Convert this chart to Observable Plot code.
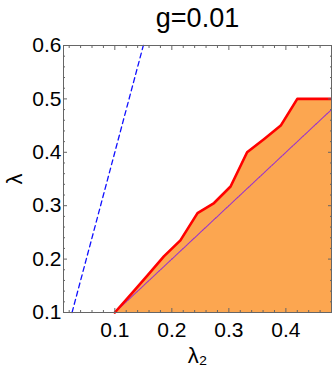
<!DOCTYPE html>
<html>
<head>
<meta charset="utf-8">
<script src="https://cdn.jsdelivr.net/npm/d3@7"></script>
<script src="https://cdn.jsdelivr.net/npm/@observablehq/plot@0.6"></script>
<style>
  body { margin: 0; background: #fff; }
</style>
</head>
<body>
<div id="chart"></div>
<script>
const title = "g=0.01";
const xLabel = "λ₂";
const yLabel = "λ";
const xDomain = [0.01, 0.48];
const yDomain = [0.1, 0.6];
const xTicks = [0.1, 0.2, 0.3, 0.4];
const yTicks = [0.1, 0.2, 0.3, 0.4, 0.5, 0.6];

// Boundary of the orange region (red line)
const boundaryX = [0.1, 0.129, 0.157, 0.186, 0.215, 0.245, 0.274, 0.303, 0.332, 0.362, 0.391, 0.42, 0.48];
const boundaryY = [0.1, 0.135, 0.169, 0.205, 0.235, 0.286, 0.305, 0.336, 0.400, 0.425, 0.450, 0.5, 0.5];

// Blue dashed line (λ = 4 λ2)
const dashedX = [0.025, 0.15];
const dashedY = [0.1, 0.6];

// Purple dotted diagonal (λ = λ2)
const diagX = [0.1, 0.48];
const diagY = [0.1, 0.48];

const boundary = boundaryX.map((x, i) => ({x, y: boundaryY[i]}));
const dashed = dashedX.map((x, i) => ({x, y: dashedY[i]}));
const diag = diagX.map((x, i) => ({x, y: diagY[i]}));

const minorX = d3.range(0, 51).map(i => +(i * 0.02).toFixed(2)).filter(v => v >= xDomain[0] && v <= xDomain[1] && !xTicks.includes(v));
const minorY = d3.range(0, 51).map(i => +(i * 0.02).toFixed(2)).filter(v => v >= yDomain[0] && v <= yDomain[1] && !yTicks.includes(v));

const font = "'Liberation Sans', Arial, sans-serif";
const tk = {text: null, stroke: "#666", label: null};

const chart = Plot.plot({
  width: 332,
  height: 371,
  marginTop: 45,
  marginBottom: 59,
  marginLeft: 63,
  marginRight: 1,
  style: {fontFamily: font, background: "#fff", color: "#000", overflow: "visible"},
  x: {domain: xDomain, label: null},
  y: {domain: yDomain, label: null},
  marks: [
    Plot.areaY(boundary, {x: "x", y: "y", fill: "#fca650", clip: true}),
    Plot.line(diag, {x: "x", y: "y", stroke: "#9932cc", strokeWidth: 1.1, strokeDasharray: "1.5,1"}),
    Plot.line(boundary, {x: "x", y: "y", stroke: "#ff0000", strokeWidth: 2.6, strokeLinejoin: "round"}),
    Plot.line(dashed, {x: "x", y: "y", stroke: "#1010ff", strokeWidth: 1.3, strokeDasharray: "5,3.5"}),
    Plot.frame({stroke: "#666", strokeWidth: 1}),
    // major ticks (inward), all four sides
    Plot.axisX(xTicks, {anchor: "bottom", tickSize: -4, ...tk}),
    Plot.axisX(xTicks, {anchor: "top", tickSize: -4, ...tk}),
    Plot.axisY(yTicks, {anchor: "left", tickSize: -4, ...tk}),
    Plot.axisY(yTicks, {anchor: "right", tickSize: -4, ...tk}),
    // minor ticks
    Plot.axisX(minorX, {anchor: "bottom", tickSize: -2, ...tk}),
    Plot.axisX(minorX, {anchor: "top", tickSize: -2, ...tk}),
    Plot.axisY(minorY, {anchor: "left", tickSize: -2, ...tk}),
    Plot.axisY(minorY, {anchor: "right", tickSize: -2, ...tk}),
    // tick labels
    Plot.axisX(xTicks, {anchor: "bottom", tickSize: 0, tickPadding: 10, fontSize: 21, tickFormat: d3.format(".1f"), label: null, fill: "#000"}),
    Plot.axisY(yTicks, {anchor: "left", tickSize: 0, tickPadding: 2, fontSize: 21, tickFormat: d3.format(".1f"), label: null, fill: "#000"}),
    // title & axis labels
    Plot.text([title], {frameAnchor: "top", dy: -27, fontSize: 27, fill: "#000", lineAnchor: "middle"}),
    Plot.text([xLabel], {frameAnchor: "bottom", dy: 43, fontSize: 22, fill: "#000", lineAnchor: "middle"}),
    Plot.text([yLabel], {frameAnchor: "left", dx: -49, rotate: -90, textAnchor: "middle", fontSize: 22, fill: "#000", lineAnchor: "middle"})
  ]
});
document.getElementById("chart").appendChild(chart);
</script>
</body>
</html>
